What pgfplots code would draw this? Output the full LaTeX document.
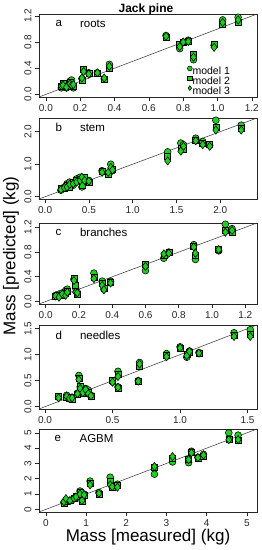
\documentclass[border=0pt]{standalone}
\usepackage{pgfplots}
\pgfplotsset{compat=1.18}
\usepackage{fontspec}
\setmainfont{Liberation Sans}
\definecolor{ptgreen}{HTML}{1FD11F}
\tikzset{plabel/.style={font=\fontsize{11.5}{12}\selectfont, anchor=west}}
\pgfplotsset{
  panel/.style={scale only axis, width=218pt, tick align=outside,
    xtick pos=bottom, ytick pos=left, major tick length=4pt,
    axis line style={line width=0.7pt, black!85},
    tick style={black!85, line width=0.6pt},
    ticklabel style={font=\fontsize{10}{10}\selectfont, text=black!85},
    yticklabel style={rotate=90, anchor=south},
    xticklabel style={yshift=0pt},
    /pgf/number format/assume math mode=true,
    /pgf/number format/fixed, /pgf/number format/fixed zerofill,
    /pgf/number format/precision=1,
    clip=true},
  m1/.style={only marks, mark=*, mark size=3.4pt, mark options={draw=black, fill=ptgreen, line width=0.55pt}},
  m2/.style={only marks, mark=square*, mark size=3.0pt, mark options={draw=black, fill=ptgreen, line width=0.55pt}},
  m3/.style={only marks, mark=diamond*, mark size=4.1pt, mark options={draw=black, fill=ptgreen, line width=0.55pt}},
  oneone/.style={black!80, line width=0.5pt, no marks},
}
\begin{document}
\begin{tikzpicture}[x=1pt,y=1pt]
\useasboundingbox (0,0) rectangle (262,550);
% ---------- a roots
\begin{axis}[panel, height=83pt, at={(39pt,453pt)}, anchor=south west,
  xmin=-0.04, xmax=1.23, ymin=-0.04, ymax=1.23,
  xtick={0,0.2,...,1.21}, ytick={0,0.4,0.8,1.2},
  legend style={at={(0.68,0.375)}, anchor=north west, draw=none, fill=none,
    font=\fontsize{10.5}{10.5}\selectfont, inner sep=0pt, row sep=0.6pt,
    nodes={inner sep=0.3pt, text height=7.4pt, text depth=0pt}},
  legend cell align=left,
  legend image code/.code={\draw[#1, mark size=2.4pt] plot coordinates {(2pt,2.8pt)};}]
\addplot[oneone, forget plot] coordinates {(-0.04,-0.04) (1.23,1.23)};
\addplot[m1] coordinates {(0.09,0.10) (0.10,0.15) (0.12,0.10) (0.14,0.20) (0.15,0.22) (0.16,0.10) (0.21,0.24) (0.22,0.37) (0.25,0.33) (0.30,0.33) (0.34,0.24) (0.37,0.46) (0.70,0.90) (0.78,0.70) (0.80,0.80) (0.83,0.83) (0.86,0.53) (0.98,0.75) (1.03,1.14) (1.12,1.18)};
\addplot[m2] coordinates {(0.09,0.12) (0.10,0.17) (0.12,0.12) (0.14,0.18) (0.15,0.12) (0.16,0.13) (0.21,0.22) (0.22,0.38) (0.25,0.32) (0.30,0.32) (0.34,0.23) (0.37,0.40) (0.70,0.88) (0.78,0.76) (0.80,0.79) (0.83,0.82) (0.86,0.61) (0.98,0.77) (1.03,1.08) (1.12,1.10)};
\addplot[m3] coordinates {(0.09,0.13) (0.10,0.14) (0.12,0.11) (0.14,0.16) (0.15,0.14) (0.16,0.15) (0.21,0.25) (0.22,0.35) (0.25,0.31) (0.30,0.33) (0.34,0.25) (0.37,0.43) (0.70,0.89) (0.78,0.73) (0.80,0.80) (0.83,0.81) (0.86,0.57) (0.98,0.72) (1.03,1.10) (1.12,1.14)};
\legend{model 1, model 2, model 3}
\node[plabel] at (rel axis cs:0.06,0.88) {a};
\node[plabel] at (rel axis cs:0.172,0.88) {roots};
\end{axis}
% ---------- b stem
\begin{axis}[panel, height=81pt, at={(39pt,351pt)}, anchor=south west,
  xmin=-0.07, xmax=2.42, ymin=-0.07, ymax=2.42,
  xtick={0,0.5,...,2.01}, ytick={0,1,2}]
\addplot[oneone] coordinates {(-0.07,-0.07) (2.42,2.42)};
\addplot[m1] coordinates {(0.18,0.20) (0.22,0.30) (0.25,0.40) (0.28,0.45) (0.32,0.35) (0.36,0.55) (0.40,0.60) (0.42,0.30) (0.45,0.55) (0.50,0.50) (0.65,0.80) (0.72,0.72) (0.75,1.00) (0.77,0.80) (1.40,1.38) (1.55,1.65) (1.58,1.60) (1.72,1.80) (1.80,1.70) (1.88,1.58) (1.95,2.35) (2.24,2.20)};
\addplot[m2] coordinates {(0.18,0.25) (0.22,0.25) (0.25,0.35) (0.28,0.30) (0.32,0.45) (0.36,0.50) (0.40,0.55) (0.42,0.35) (0.45,0.60) (0.50,0.45) (0.65,0.78) (0.72,0.70) (0.75,0.85) (0.77,0.85) (1.40,1.25) (1.55,1.50) (1.58,1.45) (1.72,1.75) (1.80,1.65) (1.88,1.60) (1.95,2.15) (2.24,2.10)};
\addplot[m3] coordinates {(0.18,0.22) (0.22,0.28) (0.25,0.30) (0.28,0.38) (0.32,0.40) (0.36,0.45) (0.40,0.50) (0.42,0.60) (0.45,0.50) (0.50,0.48) (0.65,0.75) (0.72,0.75) (0.75,0.90) (0.77,0.82) (1.40,1.10) (1.55,1.40) (1.58,1.55) (1.72,1.72) (1.80,1.60) (1.88,1.55) (1.95,2.05) (2.24,2.05)};
\node[plabel] at (rel axis cs:0.06,0.88) {b};
\node[plabel] at (rel axis cs:0.172,0.88) {stem};
\end{axis}
% ---------- c branches
\begin{axis}[panel, height=81pt, at={(39pt,246pt)}, anchor=south west,
  xmin=-0.04, xmax=1.27, ymin=-0.04, ymax=1.27,
  xtick={0,0.2,...,1.21}, ytick={0,0.4,0.8,1.2}]
\addplot[oneone] coordinates {(-0.04,-0.04) (1.27,1.27)};
\addplot[m1] coordinates {(0.06,0.10) (0.08,0.12) (0.10,0.14) (0.12,0.18) (0.13,0.20) (0.17,0.36) (0.18,0.22) (0.19,0.15) (0.29,0.46) (0.34,0.33) (0.35,0.20) (0.39,0.33) (0.60,0.50) (0.71,0.70) (0.74,0.80) (0.89,0.92) (0.90,0.68) (1.04,0.82) (1.08,1.25) (1.12,1.18)};
\addplot[m2] coordinates {(0.06,0.08) (0.08,0.10) (0.10,0.10) (0.12,0.14) (0.13,0.17) (0.17,0.38) (0.18,0.27) (0.19,0.12) (0.29,0.40) (0.34,0.30) (0.35,0.22) (0.39,0.31) (0.60,0.60) (0.71,0.75) (0.74,0.79) (0.89,0.90) (0.90,0.75) (1.04,0.85) (1.08,1.15) (1.12,1.12)};
\addplot[m3] coordinates {(0.06,0.09) (0.08,0.07) (0.10,0.12) (0.12,0.10) (0.13,0.15) (0.17,0.34) (0.18,0.15) (0.19,0.14) (0.29,0.37) (0.34,0.26) (0.35,0.19) (0.39,0.30) (0.60,0.57) (0.71,0.77) (0.74,0.78) (0.89,0.88) (0.90,0.78) (1.04,0.84) (1.08,1.12) (1.12,1.15)};
\node[plabel] at (rel axis cs:0.06,0.88) {c};
\node[plabel] at (rel axis cs:0.172,0.88) {branches};
\end{axis}
% ---------- d needles
\begin{axis}[panel, height=84pt, at={(39pt,141pt)}, anchor=south west,
  xmin=-0.045, xmax=1.57, ymin=-0.045, ymax=1.57,
  xtick={0,0.5,1,1.5}, ytick={0,0.5,1,1.5}]
\addplot[oneone] coordinates {(-0.045,-0.045) (1.57,1.57)};
\addplot[m1] coordinates {(0.10,0.18) (0.16,0.22) (0.18,0.15) (0.20,0.18) (0.24,0.26) (0.25,0.60) (0.26,0.38) (0.28,0.28) (0.30,0.35) (0.32,0.32) (0.34,0.22) (0.50,0.48) (0.54,0.68) (0.54,0.38) (0.69,0.50) (0.70,0.85) (0.90,1.02) (1.00,1.15) (1.05,0.95) (1.07,1.07) (1.14,1.04) (1.40,1.42) (1.52,1.48)};
\addplot[m2] coordinates {(0.10,0.20) (0.16,0.18) (0.18,0.17) (0.20,0.15) (0.24,0.24) (0.25,0.55) (0.26,0.40) (0.28,0.25) (0.30,0.30) (0.32,0.28) (0.34,0.20) (0.50,0.50) (0.54,0.62) (0.54,0.35) (0.69,0.48) (0.70,0.78) (0.90,0.98) (1.00,1.12) (1.05,1.00) (1.07,1.05) (1.14,1.02) (1.40,1.38) (1.52,1.40)};
\addplot[m3] coordinates {(0.10,0.17) (0.16,0.20) (0.18,0.16) (0.20,0.17) (0.24,0.25) (0.25,0.52) (0.26,0.35) (0.28,0.27) (0.30,0.33) (0.32,0.25) (0.34,0.21) (0.50,0.47) (0.54,0.58) (0.54,0.37) (0.69,0.49) (0.70,0.82) (0.90,0.96) (1.00,1.13) (1.05,0.98) (1.07,1.06) (1.14,1.03) (1.40,1.35) (1.52,1.35)};
\node[plabel] at (rel axis cs:0.06,0.88) {d};
\node[plabel] at (rel axis cs:0.172,0.88) {needles};
\end{axis}
% ---------- e AGBM
\begin{axis}[panel, height=83pt, at={(39pt,38pt)}, anchor=south west,
  xmin=-0.17, xmax=5.25, ymin=-0.17, ymax=5.25,
  xtick={0,1,...,5}, ytick={0,1,...,5},
  /pgf/number format/precision=0]
\addplot[oneone] coordinates {(-0.17,-0.17) (5.25,5.25)};
\addplot[m1] coordinates {(0.45,0.45) (0.50,0.60) (0.60,0.55) (0.70,0.70) (0.75,0.80) (0.85,1.20) (0.90,0.60) (0.95,1.00) (1.10,1.85) (1.32,1.10) (1.60,2.10) (1.65,1.50) (1.78,1.65) (2.70,2.30) (3.15,3.10) (3.55,3.05) (3.62,3.80) (3.78,3.40) (3.92,3.60) (4.55,5.00) (4.78,4.85)};
\addplot[m2] coordinates {(0.45,0.40) (0.50,0.55) (0.60,0.60) (0.70,0.75) (0.75,0.85) (0.85,1.10) (0.90,0.55) (0.95,0.90) (1.10,1.70) (1.32,1.00) (1.60,1.85) (1.65,1.45) (1.78,1.55) (2.70,2.75) (3.15,3.35) (3.55,3.30) (3.62,3.75) (3.78,3.35) (3.92,3.50) (4.55,4.60) (4.78,4.50)};
\addplot[m3] coordinates {(0.45,0.50) (0.50,0.70) (0.60,0.58) (0.70,0.72) (0.75,0.82) (0.85,1.00) (0.90,0.58) (0.95,0.95) (1.10,1.60) (1.32,1.05) (1.60,1.60) (1.65,1.48) (1.78,1.45) (2.70,2.80) (3.15,3.45) (3.55,3.25) (3.62,3.70) (3.78,3.38) (3.92,3.55) (4.55,4.55) (4.78,4.55)};
\node[plabel] at (rel axis cs:0.055,0.88) {e};
\node[plabel] at (rel axis cs:0.17,0.88) {AGBM};
\end{axis}
% ---------- titles
\node[font=\bfseries\fontsize{12}{12}\selectfont] at (146,541) {Jack pine};
\node[font=\fontsize{17}{17}\selectfont] at (148,13) {Mass [measured] (kg)};
\node[font=\fontsize{17}{17}\selectfont, rotate=90] at (11,294) {Mass [predicted] (kg)};
\end{tikzpicture}
\end{document}
